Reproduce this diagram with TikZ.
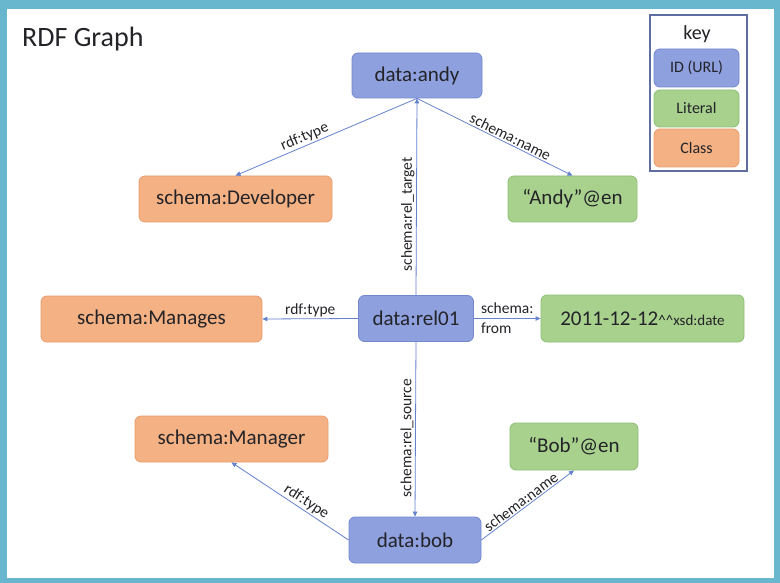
\documentclass[tikz,border=0pt]{standalone}
\usepackage{fontspec}
\setmainfont{Carlito}
\usetikzlibrary{arrows.meta}
\definecolor{framec}{RGB}{105,183,206}
\definecolor{idfill}{RGB}{142,160,222}
\definecolor{iddraw}{RGB}{115,135,205}
\definecolor{litfill}{RGB}{169,209,142}
\definecolor{litdraw}{RGB}{140,190,115}
\definecolor{clsfill}{RGB}{244,177,131}
\definecolor{clsdraw}{RGB}{235,155,110}
\definecolor{edgec}{RGB}{100,130,205}
\definecolor{txt}{RGB}{35,35,40}
\definecolor{keyframe}{RGB}{95,110,160}
\begin{document}
\begin{tikzpicture}[x=1pt,y=-1pt,
  box/.style={rounded corners=6pt, line width=0.8pt, inner sep=0pt, text=txt,
    font=\fontsize{21}{25}\selectfont},
  idbox/.style={box, fill=idfill, draw=iddraw},
  litbox/.style={box, fill=litfill, draw=litdraw},
  clsbox/.style={box, fill=clsfill, draw=clsdraw},
  edge/.style={draw=edgec, line width=0.8pt, -{Triangle[length=5pt,width=4.5pt]}},
  elabel/.style={font=\fontsize{15.5}{20}\selectfont, text=txt, inner sep=1.5pt},
  keyitem/.style={font=\fontsize{16}{19}\selectfont, minimum width=85pt, minimum height=38pt}]
\fill[framec] (0,0) rectangle (780,583);
\fill[white] (7,9) rectangle (774,578);
\useasboundingbox (0,0) rectangle (780,583);

\node[anchor=west, font=\fontsize{28}{32}\selectfont, text=txt, inner sep=0pt] (title) at (22,39) {RDF Graph};

% key
\node[draw=keyframe, line width=1.3pt, minimum width=97pt, minimum height=156pt, inner sep=0pt] (key) at (698.5,93) {};
\node[font=\fontsize{20}{24}\selectfont, text=txt, inner sep=0pt] (keytitle) at (697,34) {key};
\node[idbox, keyitem] (kid) at (696.5,68) {ID (URL)};
\node[litbox, keyitem, minimum height=37pt] (klit) at (696.5,108.5) {Literal};
\node[clsbox, keyitem] (kcls) at (696.5,148) {Class};

% graph nodes
\node[idbox, minimum width=130pt, minimum height=45pt] (andy) at (417,75.5) {data:andy};
\node[clsbox, minimum width=193pt, minimum height=46pt] (dev) at (235.5,199) {schema:Developer};
\node[litbox, minimum width=129pt, minimum height=46pt] (andyen) at (572.5,199) {“Andy”@en};
\node[clsbox, minimum width=221pt, minimum height=46pt] (manages) at (151.5,319) {schema:Manages};
\node[idbox, minimum width=115pt, minimum height=46pt] (rel) at (416,318.5) {data:rel01};
\node[litbox, minimum width=203pt, minimum height=47pt] (date) at (642.5,318.5) {2011-12-12{\fontsize{15}{18}\selectfont\textasciicircum\textasciicircum xsd:date}};
\node[clsbox, minimum width=193pt, minimum height=46pt] (manager) at (231.5,439) {schema:Manager};
\node[litbox, minimum width=128pt, minimum height=47pt] (boben) at (574,446.5) {“Bob”@en};
\node[idbox, minimum width=132pt, minimum height=46pt] (bob) at (415,540) {data:bob};

% edges
\draw[edge] (andy.south) -- node[elabel, sloped, above, pos=0.6] {rdf:type} (dev.north);
\draw[edge] (andy.south) -- node[elabel, sloped, above, pos=0.58] {schema:name} (andyen.north);
\draw[edge] (rel.north) -- node[elabel, rotate=90, anchor=south, pos=0.41] {schema:rel\_target} (andy.south);
\draw[edge] (rel.west) -- node[elabel, above, midway] {rdf:type} (manages.east);
\draw[edge] (rel.east) -- node[elabel, align=left, midway] {schema:\\from} (date.west);
\draw[edge] (rel.south) -- node[elabel, rotate=90, anchor=south, pos=0.55] {schema:rel\_source} (bob.north);
\draw[edge] (bob.west) -- node[elabel, sloped, above, pos=0.4] {rdf:type} (manager.south);
\draw[edge] (bob.east) -- node[elabel, sloped, above, pos=0.47, inner sep=1pt] {schema:name} (boben.south);
\end{tikzpicture}
\end{document}
